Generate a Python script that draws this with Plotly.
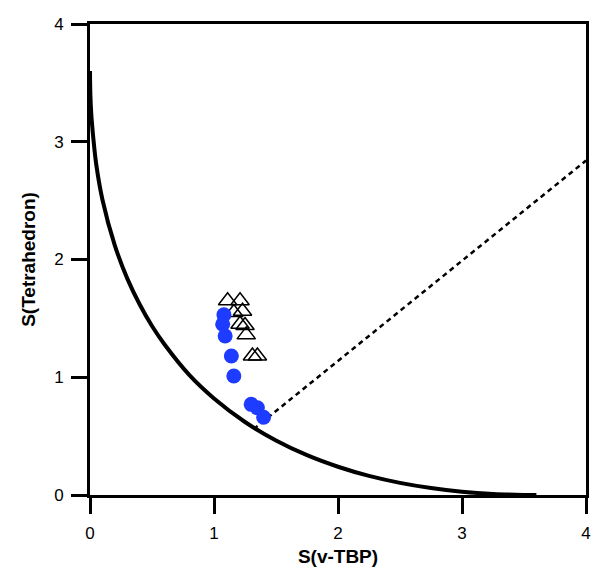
import plotly.graph_objects as go

# Minimal distortion path
path_x = [0.0, 0.003, 0.01, 0.025, 0.05, 0.1, 0.2, 0.3, 0.4, 0.5, 0.6, 0.8, 1.0, 1.25, 1.5,
          1.75, 2.0, 2.25, 2.5, 2.75, 3.0, 3.25, 3.5, 3.6]
path_y = [3.6, 3.40, 3.24, 3.05, 2.81, 2.51, 2.12, 1.84, 1.62, 1.435, 1.28, 1.02, 0.82, 0.62, 0.463,
          0.338, 0.240, 0.162, 0.103, 0.059, 0.028, 0.009, 0.001, 0.0]

# Dashed deviation line
dash_x = [1.32, 4.0]
dash_y = [0.56, 2.84]

# Open triangles
tri_x = [1.11, 1.21, 1.16, 1.23, 1.21, 1.25, 1.26, 1.31, 1.35]
tri_y = [1.65, 1.65, 1.55, 1.56, 1.45, 1.44, 1.36, 1.18, 1.18]

# Blue circles
circ_x = [1.08, 1.07, 1.09, 1.14, 1.16, 1.30, 1.35, 1.40]
circ_y = [1.53, 1.45, 1.35, 1.18, 1.01, 0.77, 0.74, 0.66]

tick_vals = [0, 1, 2, 3, 4]

fig = go.Figure()
fig.add_trace(go.Scatter(x=path_x, y=path_y, mode="lines",
                         line=dict(color="black", width=4, shape="spline"),
                         showlegend=False, hoverinfo="skip"))
fig.add_trace(go.Scatter(x=dash_x, y=dash_y, mode="lines",
                         line=dict(color="black", width=2.5, dash="5px,4px"),
                         showlegend=False, hoverinfo="skip"))
fig.add_trace(go.Scatter(x=tri_x, y=tri_y, mode="markers",
                         marker=dict(symbol="triangle-up-open", size=16,
                                     color="black", line=dict(width=1.5)),
                         showlegend=False))
fig.add_trace(go.Scatter(x=circ_x, y=circ_y, mode="markers",
                         marker=dict(symbol="circle", size=15, color="#1e3cff",
                                     line=dict(width=0)),
                         showlegend=False))

font_family = "Liberation Sans, Arial"

fig.update_xaxes(range=[0, 4], tickmode="array", tickvals=tick_vals,
                 showgrid=False, zeroline=False,
                 showline=True, linecolor="black", linewidth=3, mirror=True,
                 ticks="outside", ticklen=16, tickwidth=3, tickcolor="black",
                 ticklabelstandoff=5,
                 tickfont=dict(family=font_family, size=17, color="black"),
                 title=dict(text="<b>S(v-TBP)</b>", standoff=8,
                            font=dict(family=font_family, size=19, color="black")))
fig.update_yaxes(range=[0, 4], tickmode="array", tickvals=tick_vals,
                 showgrid=False, zeroline=False,
                 showline=True, linecolor="black", linewidth=3, mirror=True,
                 ticks="outside", ticklen=16, tickwidth=3, tickcolor="black",
                 ticklabelstandoff=4,
                 tickfont=dict(family=font_family, size=17, color="black"),
                 title=dict(text="<b>S(Tetrahedron)</b>", standoff=14,
                            font=dict(family=font_family, size=19, color="black")))

# page body has an 8px margin, so the figure is sized to fit the 601x585 window
fig.update_layout(
    width=593, height=577,
    margin=dict(l=82, r=15, t=16, b=90, autoexpand=False),
    paper_bgcolor="white", plot_bgcolor="white",
)

fig.write_html("out.html")
